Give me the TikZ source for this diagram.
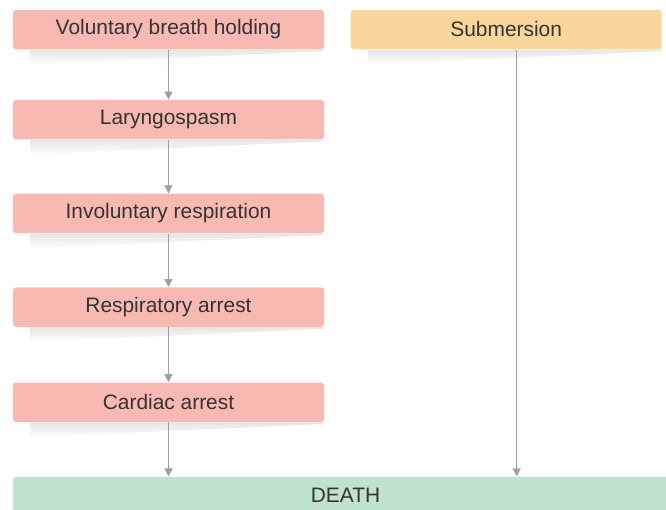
\documentclass[tikz,border=0pt]{standalone}
\usepackage{fontspec}
\setmainfont{Liberation Sans}
\usetikzlibrary{arrows.meta,positioning,calc}
\definecolor{StepPink}{RGB}{248,185,179}
\definecolor{CauseOrange}{RGB}{250,213,156}
\definecolor{EndGreen}{RGB}{192,227,203}
\definecolor{LinkGray}{RGB}{158,158,164}
\definecolor{TextGray}{RGB}{51,51,51}
\tikzset{
  stepbox/.style={rounded corners=0.6mm,fill=StepPink,text=TextGray,
    minimum width=6.22cm,minimum height=0.79cm,align=center,
    font=\fontsize{11.9}{14}\selectfont,inner sep=0pt},
  causebox/.style={stepbox,fill=CauseOrange},
  endbox/.style={stepbox,fill=EndGreen,minimum width=13.3cm,minimum height=0.76cm},
  linkarrow/.style={-{Triangle[length=1.6mm,width=1.6mm]},
    line width=0.7pt,draw=LinkGray},
}
\begin{document}
\begin{tikzpicture}
  \clip (0,0) rectangle (13.32,-10.18);
  \node[stepbox] (vol) at (3.37,-0.59) {Voluntary breath holding};
  \node[causebox,right=0.52cm of vol] (sub) {Submersion};
  \node[stepbox,below=1.0cm of vol] (lar) {Laryngospasm};
  \node[stepbox,below=1.07cm of lar] (inv) {Involuntary respiration};
  \node[stepbox,below=1.07cm of inv] (resp) {Respiratory arrest};
  \node[stepbox,below=1.1cm of resp] (card) {Cardiac arrest};
  \node[endbox,below=1.08cm of card.south west,anchor=north west] (death) {DEATH};
  % soft shadows under the boxes
  \foreach \n in {vol,sub,lar,inv,resp,card}
    \shade[top color=black!10,bottom color=white]
      ($(\n.south west)+(0.35,0)$) -- (\n.south east) -- ++(0,-0.03)
      -- ($(\n.south west)+(0.35,-0.3)$) -- cycle;
  \draw[linkarrow] (vol) -- (lar);
  \draw[linkarrow] (lar) -- (inv);
  \draw[linkarrow] (inv) -- (resp);
  \draw[linkarrow] (resp) -- (card);
  \draw[linkarrow] (card.south) -- (card.south |- death.north);
  \draw[linkarrow] ([xshift=0.21cm]sub.south) -- ([xshift=0.21cm]sub.south |- death.north);
\end{tikzpicture}
\end{document}
